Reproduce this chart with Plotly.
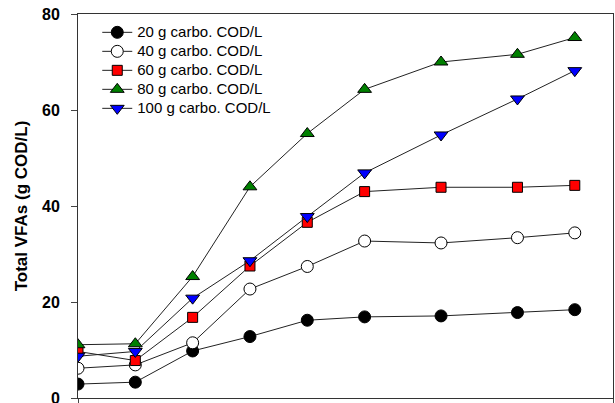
import plotly.graph_objects as go

days = [0, 3, 6, 9, 12, 15, 19, 23, 26]
labels = ["20 g carbo. COD/L", "40 g carbo. COD/L", "60 g carbo. COD/L",
          "80 g carbo. COD/L", "100 g carbo. COD/L"]
vfa_20 = [2.9, 3.3, 9.8, 12.8, 16.2, 16.9, 17.1, 17.8, 18.4]
vfa_40 = [6.2, 6.9, 11.5, 22.7, 27.4, 32.7, 32.3, 33.4, 34.4]
vfa_60 = [9.7, 7.8, 16.8, 27.5, 36.6, 43.0, 43.9, 43.9, 44.3]
vfa_80 = [11.1, 11.3, 25.3, 44.0, 55.1, 64.3, 70.0, 71.6, 75.1]
vfa_100 = [8.7, 9.7, 20.8, 28.6, 37.8, 46.9, 54.8, 62.3, 68.2]

series = [vfa_20, vfa_40, vfa_60, vfa_80, vfa_100]
symbols = ["circle", "circle", "square", "triangle-up", "triangle-down"]
fills = ["black", "white", "red", "green", "blue"]
sizes = [12, 12, 10, 12, 12]

FONT = "Arial, Liberation Sans, sans-serif"

fig = go.Figure()
for name, ys, sym, fc, sz in zip(labels, series, symbols, fills, sizes):
    fig.add_trace(go.Scatter(
        x=days, y=ys, mode="lines+markers",
        name='<span style="font-size:15px">' + name + '</span>',
        line=dict(color="#222222", width=1),
        marker=dict(symbol=sym, size=sz, color=fc,
                    line=dict(color="black", width=1)),
    ))

fig.update_layout(
    width=615, height=403,
    margin=dict(l=78, r=2, t=14, b=5, autoexpand=False),
    plot_bgcolor="white", paper_bgcolor="white",
    font=dict(family=FONT, color="black"),
    showlegend=True,
    legend=dict(x=0.036, y=0.99, xanchor="left", yanchor="top",
                bgcolor="rgba(0,0,0,0)", font=dict(size=12, family=FONT),
                tracegroupgap=0),
)
fig.update_xaxes(range=[0, 28], showgrid=False, zeroline=False,
                 showline=True, linecolor="#333333", linewidth=1, mirror=True,
                 ticks="outside", ticklen=5, tickvals=[0, 28],
                 showticklabels=False, automargin=False)
fig.update_yaxes(range=[0, 80], showgrid=False, zeroline=False,
                 showline=True, linecolor="#333333", linewidth=1, mirror=True,
                 ticks="outside", ticklen=6, tickvals=[0, 20, 40, 60, 80],
                 ticklabelstandoff=8, ticklabeloverflow="allow",
                 automargin=False,
                 tickfont=dict(size=16, family=FONT, weight="bold"),
                 title=dict(text="<b>Total VFAs (g COD/L)</b>",
                            font=dict(size=17, family=FONT), standoff=10))

fig.write_html("out.html", config={"displayModeBar": False},
               post_script="document.body.style.margin='0';document.body.style.overflow='hidden';")
